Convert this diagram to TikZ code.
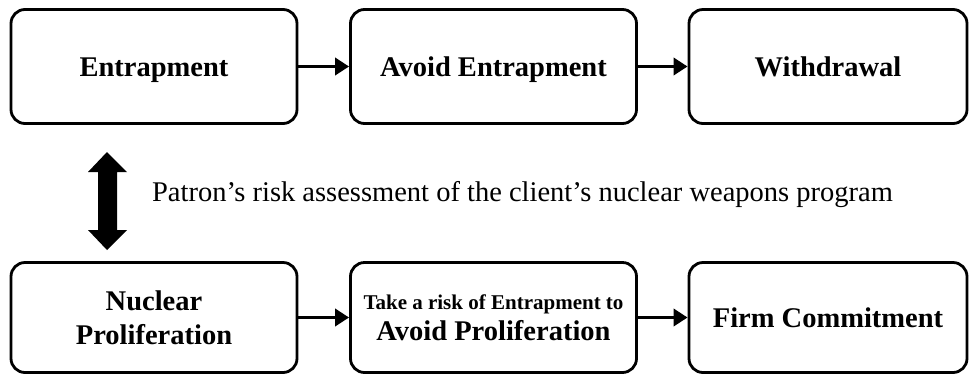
\documentclass[tikz,border=0pt]{standalone}
\usepackage{fontspec}
\setmainfont{Liberation Serif}
\usetikzlibrary{arrows.meta}
\begin{document}
\begin{tikzpicture}[x=1pt,y=-1pt,
        box/.style={draw=black, line width=2.8pt, rounded corners=14pt,
            minimum width=286pt, minimum height=114pt, inner sep=0pt, align=center,
            font=\bfseries\fontsize{28.5}{34}\selectfont},
        oneline/.style={text height=20pt, text depth=1pt},
        link/.style={line width=3.5pt, -{Triangle[length=14pt,width=17pt]}}]
    \useasboundingbox (0,0) rectangle (972,376);
    % upper row
    \node [box, oneline] (ent) at (154,66.5) {Entrapment};
    \node [box, oneline] (avent) at (493.5,66.5) {Avoid Entrapment};
    \node [box, oneline, minimum width=278pt] (withd) at (828,66.5) {Withdrawal};
    % lower row
    \node [box, minimum height=110pt] (prolif) at (154,317.5) {Nuclear\\Proliferation};
    \node [box, minimum height=110pt] (takerisk) at (493.5,317.5)
        {{\fontsize{21}{25}\selectfont Take a risk of Entrapment to}\\[-3pt]Avoid Proliferation};
    \node [box, oneline, minimum height=110pt, minimum width=278pt] (firm) at (828,317.5) {Firm Commitment};
    \draw [link] (ent) -- (avent);
    \draw [link] (avent) -- (withd);
    \draw [link] (prolif) -- (takerisk);
    \draw [link] (takerisk) -- (firm);
    % patron's assessment
    \fill [black] (107,152) -- (127,172) -- (117,172) -- (117,230) -- (127,230)
        -- (107,250) -- (88,230) -- (98,230) -- (98,172) -- (88,172) -- cycle;
    \node [anchor=base, inner sep=0pt, font=\fontsize{28.5}{34}\selectfont] (assess) at (522.5,201)
        {Patron’s risk assessment of the client’s nuclear weapons program};
\end{tikzpicture}
\end{document}
